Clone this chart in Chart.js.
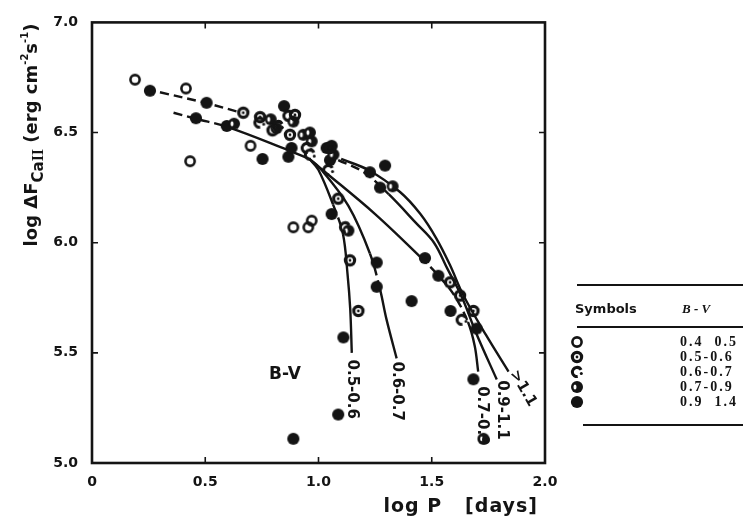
<!DOCTYPE html>
<html>
<head>
<meta charset="utf-8">
<title>log ΔF(CaII) versus log P</title>
<script src="https://cdn.jsdelivr.net/npm/chart.js@4.4.1/dist/chart.umd.min.js"></script>
<style>
  html, body { margin: 0; padding: 0; background: #fff; }
  canvas { display: block; }
</style>
</head>
<body>
<canvas id="chart" width="743" height="528"></canvas>
<script>
const INK = '#141414';

// axis tick values
const xTickValues = [0, 0.5, 1.0, 1.5, 2.0];
const yTickValues = [5.0, 5.5, 6.0, 6.5, 7.0];

// colour classes for the symbol key
const bvRanges = ['0.4  0.5', '0.5-0.6', '0.6-0.7', '0.7-0.9', '0.9  1.4'];

// stars by B-V class: log P (days) and log ΔF(CaII)
const bv45LogP = [0.19, 0.415, 0.70, 0.433, 0.889, 0.955, 0.970];
const bv45LogF = [6.74, 6.70, 6.44, 6.37, 6.07, 6.07, 6.10];

const bv56LogP = [0.668, 0.742, 0.797, 0.874, 0.896, 1.087, 1.176, 1.625, 1.684, 1.139, 1.581, 1.051];
const bv56LogF = [6.59, 6.57, 6.51, 6.49, 6.58, 6.20, 5.69, 5.76, 5.69, 5.92, 5.82, 6.43];

const bv67LogP = [0.739, 0.821, 0.948, 1.117, 1.632, 0.867, 1.043, 0.962];
const bv67LogF = [6.545, 6.53, 6.43, 6.07, 5.65, 6.576, 6.33, 6.40];

const bv79LogP = [0.627, 0.789, 0.889, 0.933, 0.970, 1.066, 1.132, 1.327, 0.962, 1.728, 0.815];
const bv79LogF = [6.54, 6.56, 6.55, 6.49, 6.46, 6.40, 6.055, 6.256, 6.50, 5.11, 6.52];

const bv914LogP = [0.256, 0.506, 0.459, 0.595, 0.848, 0.753, 0.867, 0.881, 1.036, 1.058, 1.051, 1.058,
                   1.227, 1.294, 1.272, 1.257, 1.257, 1.470, 1.529, 1.411, 1.583, 1.698, 1.684, 1.110, 1.087, 0.889];
const bv914LogF = [6.69, 6.635, 6.565, 6.53, 6.62, 6.38, 6.39, 6.43, 6.43, 6.44, 6.375, 6.13,
                   6.32, 6.35, 6.25, 5.91, 5.80, 5.93, 5.85, 5.735, 5.69, 5.61, 5.38, 5.57, 5.22, 5.11];

// mean relations drawn through the stars
const upperTrunkLogP = [0.30, 0.50, 0.66];
const upperTrunkLogF = [6.683, 6.635, 6.59];
const lowerTrunkLogP = [0.36, 0.46, 0.60, 0.85, 0.96];
const lowerTrunkLogF = [6.59, 6.562, 6.525, 6.427, 6.38];
const rel56LogP = [0.96, 1.00, 1.064, 1.108, 1.128, 1.14, 1.147];
const rel56LogF = [6.38, 6.33, 6.174, 6.04, 5.86, 5.70, 5.50];
const rel67LogP = [0.96, 1.007, 1.132, 1.227, 1.272, 1.30, 1.345];
const rel67LogF = [6.38, 6.338, 6.167, 5.951, 5.787, 5.653, 5.475];
const rel79LogP = [0.97, 1.03, 1.25, 1.45, 1.53, 1.60, 1.66, 1.69, 1.705];
const rel79LogF = [6.37, 6.32, 6.13, 5.935, 5.85, 5.76, 5.64, 5.53, 5.415];
const rel911LogP = [1.087, 1.20, 1.31, 1.43, 1.51, 1.57, 1.63, 1.70, 1.787];
const rel911LogF = [6.375, 6.32, 6.22, 6.09, 6.00, 5.88, 5.76, 5.58, 5.379];
const rel11LogP = [1.10, 1.22, 1.36, 1.45, 1.52, 1.58, 1.64, 1.74, 1.839];
const rel11LogF = [6.38, 6.33, 6.23, 6.13, 6.02, 5.90, 5.76, 5.58, 5.415];

// labels at the ends of the relations
const relLabelText = ['0.5-0.6', '0.6-0.7', '0.7-0.9', '0.9-1.1', '>1.1'];
const relLabelLogP = [1.147, 1.347, 1.722, 1.810, 1.903];
const relLabelLogF = [5.335, 5.326, 5.214, 5.241, 5.339];
const relLabelAngle = [90, 90, 90, 90, 60];

const pairs = (xs, ys) => xs.map((x, i) => ({ x, y: ys[i] }));

// ---- marker glyphs ----
function makeSymbol(kind) {
  const c = document.createElement('canvas');
  c.width = 18; c.height = 18;
  const g = c.getContext('2d');
  const cx = 9, cy = 9, r = 4.6;
  g.strokeStyle = INK; g.fillStyle = INK; g.lineWidth = 2.6;
  if (kind === 'open') {
    g.beginPath(); g.arc(cx, cy, r, 0, Math.PI * 2); g.stroke();
  } else if (kind === 'dot') {
    g.lineWidth = 3.2;
    g.beginPath(); g.arc(cx, cy, r, 0, Math.PI * 2); g.stroke();
    g.beginPath(); g.arc(cx, cy, 1.4, 0, Math.PI * 2); g.fill();
  } else if (kind === 'broken') {
    g.lineWidth = 3;
    g.beginPath(); g.arc(cx, cy, r, Math.PI * 0.45, Math.PI * 1.85); g.stroke();
    g.beginPath(); g.arc(cx + r - 0.3, cy + 1.5, 1.5, 0, Math.PI * 2); g.fill();
  } else if (kind === 'half') {
    g.beginPath(); g.arc(cx, cy, r + 1.4, 0, Math.PI * 2); g.fill();
    g.fillStyle = '#fff';
    g.beginPath(); g.ellipse(cx - 2, cy, 1.5, 2.6, 0, 0, Math.PI * 2); g.fill();
  } else {
    g.beginPath(); g.arc(cx, cy, r + 1.5, 0, Math.PI * 2); g.fill();
  }
  return c;
}
const symbolKinds = ['open', 'dot', 'broken', 'half', 'filled'];
const symbols = symbolKinds.map(makeSymbol);

function starSet(xs, ys, k) {
  return { type: 'scatter', data: pairs(xs, ys), pointStyle: symbols[k], pointRadius: 6, order: 0 };
}
function relation(xs, ys, dashFrom, dashTo) {
  return {
    type: 'scatter', showLine: true, data: pairs(xs, ys), order: 1,
    borderColor: INK, borderWidth: 2.4, pointRadius: 0, tension: 0.35, fill: false,
    segment: {
      borderDash: ctx => (ctx.p0DataIndex >= dashFrom && ctx.p0DataIndex < dashTo) ? [9, 5] : undefined
    }
  };
}

// ---- frame, inward ticks, curve labels, axis titles and symbol key ----
const decorations = {
  id: 'decorations',
  afterDraw(chart) {
    const { ctx, chartArea: a, scales: { x, y } } = chart;
    ctx.save();
    ctx.strokeStyle = INK; ctx.fillStyle = INK;

    // frame
    ctx.lineWidth = 2.6;
    ctx.strokeRect(a.left, a.top, a.right - a.left, a.bottom - a.top);
    ctx.lineWidth = 1.6;
    xTickValues.slice(1, -1).forEach(v => {
      const px = x.getPixelForValue(v);
      ctx.beginPath(); ctx.moveTo(px, a.bottom); ctx.lineTo(px, a.bottom - 6);
      ctx.moveTo(px, a.top); ctx.lineTo(px, a.top + 6); ctx.stroke();
    });
    yTickValues.slice(1, -1).forEach(v => {
      const py = y.getPixelForValue(v);
      ctx.beginPath(); ctx.moveTo(a.left, py); ctx.lineTo(a.left + 6, py);
      ctx.moveTo(a.right, py); ctx.lineTo(a.right - 6, py); ctx.stroke();
    });

    // relation labels
    ctx.font = 'bold 15px "DejaVu Sans"';
    ctx.textAlign = 'center'; ctx.textBaseline = 'middle';
    relLabelText.forEach((t, i) => {
      ctx.save();
      ctx.translate(x.getPixelForValue(relLabelLogP[i]), y.getPixelForValue(relLabelLogF[i]));
      ctx.rotate(relLabelAngle[i] * Math.PI / 180);
      ctx.fillText(t, 0, 0);
      ctx.restore();
    });
    ctx.font = 'bold 17px "DejaVu Sans"';
    ctx.fillText('B-V', x.getPixelForValue(0.852), y.getPixelForValue(5.40));

    // x-axis title
    ctx.save();
    ctx.font = 'bold 19px "DejaVu Sans"';
    if ('letterSpacing' in ctx) ctx.letterSpacing = '1px';
    ctx.textAlign = 'right';
    ctx.fillText('log P   [days]', a.right - 7, a.bottom + 44);
    ctx.restore();

    // y-axis title with subscript and superscripts
    const parts = [
      { t: 'log ΔF', f: 'bold 18px "DejaVu Sans"', dy: 0 },
      { t: 'Ca', f: 'bold 15px "DejaVu Sans"', dy: 6 },
      { t: 'II', f: 'bold 16px "Liberation Serif"', dy: 6 },
      { t: ' (erg cm', f: 'bold 18px "DejaVu Sans"', dy: 0 },
      { t: '-2', f: 'bold 10px "DejaVu Sans"', dy: -9 },
      { t: 's', f: 'bold 18px "DejaVu Sans"', dy: 0 },
      { t: '-1', f: 'bold 10px "DejaVu Sans"', dy: -9 },
      { t: ')', f: 'bold 18px "DejaVu Sans"', dy: 0 }
    ];
    let total = 0;
    parts.forEach(p => { ctx.font = p.f; p.w = ctx.measureText(p.t).width; total += p.w; });
    ctx.save();
    ctx.translate(37, 135);
    ctx.rotate(-Math.PI / 2);
    ctx.textAlign = 'left'; ctx.textBaseline = 'alphabetic';
    let cx = -total / 2;
    parts.forEach(p => { ctx.font = p.f; ctx.fillText(p.t, cx, p.dy); cx += p.w; });
    ctx.restore();

    // symbol key
    ctx.lineWidth = 2;
    ctx.beginPath();
    ctx.moveTo(577, 285); ctx.lineTo(743, 285);
    ctx.moveTo(577, 327); ctx.lineTo(743, 327);
    ctx.moveTo(583, 425); ctx.lineTo(743, 425);
    ctx.stroke();
    ctx.textAlign = 'left'; ctx.textBaseline = 'middle';
    ctx.font = 'bold 13px "DejaVu Sans"';
    ctx.fillText('Symbols', 575, 310);
    ctx.font = 'italic bold 13px "Liberation Serif"';
    ctx.fillText('B - V', 682, 310);
    ctx.font = 'bold 14px "Liberation Serif"';
    if ('letterSpacing' in ctx) ctx.letterSpacing = '2px';
    bvRanges.forEach((t, i) => {
      const ry = 342 + i * 15;
      ctx.drawImage(symbols[i], 577 - 9, ry - 9);
      ctx.fillText(t, 680, ry);
    });
    ctx.restore();
  }
};

const tickFont = { family: 'DejaVu Sans', weight: 'bold', size: 14 };

new Chart(document.getElementById('chart'), {
  type: 'scatter',
  data: {
    datasets: [
      starSet(bv45LogP, bv45LogF, 0),
      starSet(bv56LogP, bv56LogF, 1),
      starSet(bv67LogP, bv67LogF, 2),
      starSet(bv79LogP, bv79LogF, 3),
      starSet(bv914LogP, bv914LogF, 4),
      relation(upperTrunkLogP, upperTrunkLogF, 0, 9),
      relation(lowerTrunkLogP, lowerTrunkLogF, 0, 2),
      relation(rel56LogP, rel56LogF, 2, 3),
      relation(rel67LogP, rel67LogF, 3, 4),
      relation(rel79LogP, rel79LogF, 3, 6),
      relation(rel911LogP, rel911LogF, 0, 2),
      relation(rel11LogP, rel11LogF, -1, -1)
    ]
  },
  options: {
    responsive: false,
    devicePixelRatio: 1,
    animation: false,
    layout: { padding: { left: 0, top: 15, right: 198, bottom: 0 } },
    plugins: { legend: { display: false }, tooltip: { enabled: false } },
    scales: {
      x: {
        type: 'linear', min: 0, max: 2,
        afterBuildTicks: s => { s.ticks = xTickValues.map(v => ({ value: v })); },
        afterFit: s => { s.height = 65; },
        grid: { display: false, drawTicks: false },
        border: { display: false },
        ticks: { font: tickFont, color: INK, padding: 11, maxRotation: 0,
                  callback: v => (v === 0 ? '0' : v.toFixed(1)) },
        title: { display: false }
      },
      y: {
        type: 'linear', min: 5, max: 7,
        afterBuildTicks: s => { s.ticks = yTickValues.map(v => ({ value: v })); },
        afterFit: s => { s.width = 92; },
        grid: { display: false, drawTicks: false },
        border: { display: false },
        ticks: { font: tickFont, color: INK, padding: 14, callback: v => v.toFixed(1) }
      }
    }
  },
  plugins: [decorations]
});
</script>
</body>
</html>
